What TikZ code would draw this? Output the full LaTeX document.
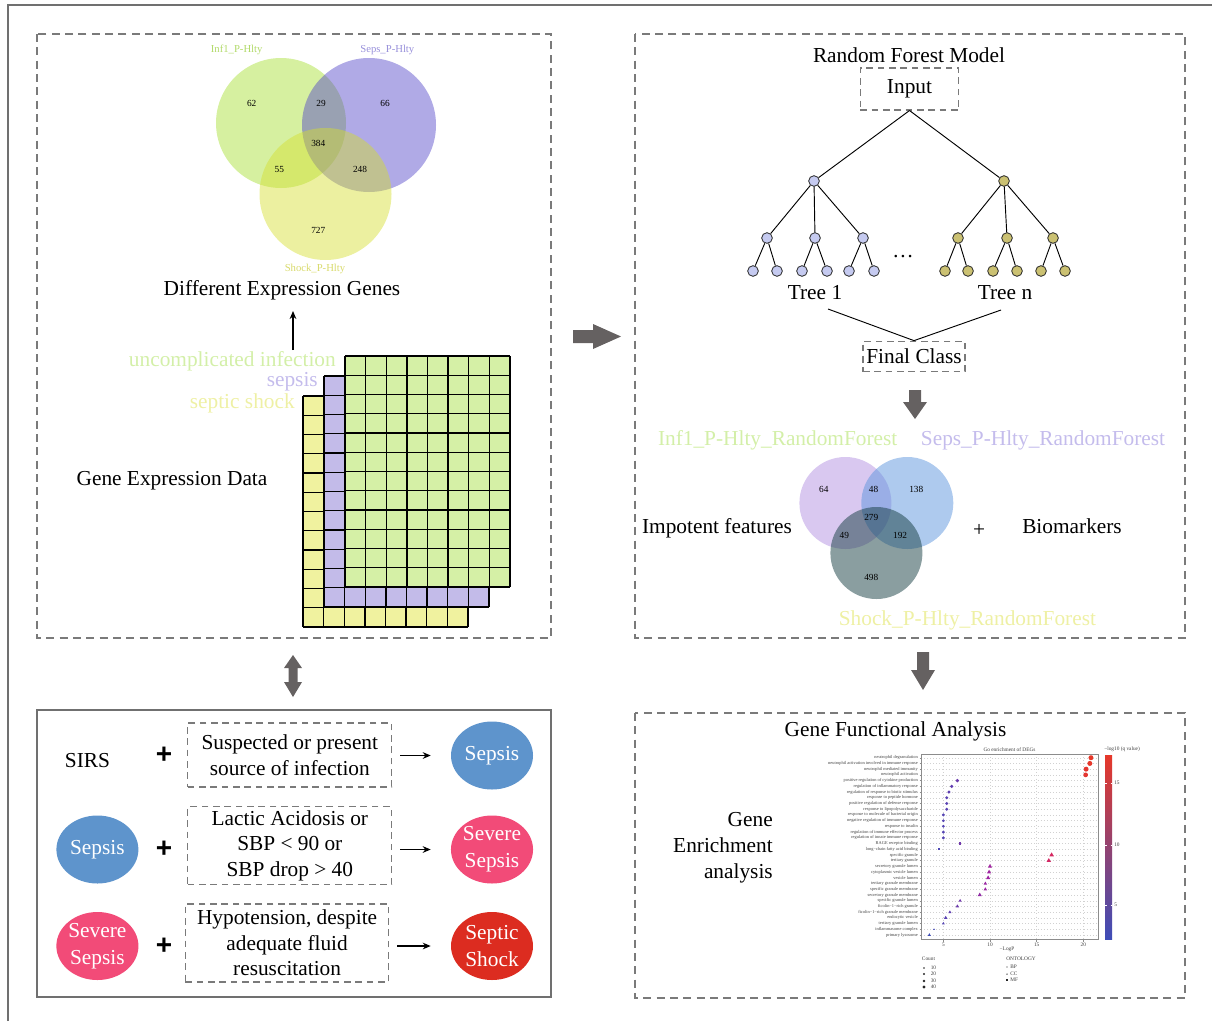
\documentclass[tikz,border=0pt]{standalone}
\usepackage{fontspec}
\setmainfont{Liberation Serif}
\newfontfamily\plusfont{Liberation Sans}
\usetikzlibrary{arrows.meta,shapes.geometric}

\definecolor{framegray}{HTML}{707070}
\definecolor{dashgray}{HTML}{7A7A7A}
\definecolor{fatgray}{HTML}{656161}
\definecolor{vA}{RGB}{164,222,44}
\definecolor{vB}{RGB}{79,66,199}
\definecolor{vC}{RGB}{213,222,44}
\definecolor{wA}{RGB}{179,145,225}
\definecolor{wB}{RGB}{93,149,221}
\definecolor{wC}{RGB}{21,61,65}
\definecolor{labA}{HTML}{B2DA6A}
\definecolor{labB}{HTML}{9890DA}
\definecolor{labC}{HTML}{D8DA6C}
\definecolor{lgreen}{HTML}{D3EFA8}
\definecolor{lpurple}{HTML}{C4BCEC}
\definecolor{lyellow}{HTML}{EEF0A4}
\definecolor{gGreen}{HTML}{D5F0A6}
\definecolor{gPurple}{HTML}{C3BBE9}
\definecolor{gYellow}{HTML}{F0F29F}
\definecolor{treeA}{HTML}{C5CAF0}
\definecolor{treeB}{HTML}{CBC172}
\definecolor{sepsisblue}{HTML}{5E94CC}
\definecolor{severepink}{HTML}{F24B78}
\definecolor{shockred}{HTML}{DC2C20}
\definecolor{qblue}{HTML}{3E4DB8}
\definecolor{qmag}{HTML}{C4179A}
\definecolor{qred}{HTML}{E6382A}
\definecolor{barmag}{HTML}{E0107E}

\tikzset{
  panel/.style={draw=dashgray, line width=0.9pt, dash pattern=on 6pt off 4pt},
  txt/.style={font=\fontsize{16}{19.5}\selectfont, inner sep=0pt},
  dbox/.style={draw=dashgray, line width=0.8pt, dash pattern=on 5pt off 3.5pt, align=center, inner sep=0pt, font=\fontsize{16}{19.1}\selectfont},
  stage/.style={ellipse, minimum width=61.5pt, minimum height=51pt, inner sep=0pt, text=white, align=center, font=\fontsize{16}{20}\selectfont},
  plus/.style={inner sep=0pt, font=\fontsize{21}{21}\plusfont\bfseries},
  tnA/.style={circle, draw=black!85, fill=treeA, minimum size=8pt, inner sep=0pt, line width=0.6pt},
  tnB/.style={circle, draw=black!85, fill=treeB, minimum size=8pt, inner sep=0pt, line width=0.6pt},
  treeline/.style={line width=0.7pt, black},
  vnum/.style={font=\fontsize{7}{8}\selectfont, inner sep=0pt},
  vlab/.style={font=\fontsize{8}{9}\selectfont, inner sep=0pt},
  gridline/.style={line width=1.1pt, black},
  goterm/.style={font=\fontsize{3.3}{4}\selectfont, anchor=east, inner sep=0pt, text=black!75},
  gotiny/.style={font=\fontsize{4}{5}\selectfont, inner sep=0pt, text=black!75},
  smallarrow/.style={-{Stealth[length=6pt,width=5pt]}, line width=0.9pt, black},
}

\begin{document}
\begin{tikzpicture}[x=0.75pt,y=-0.75pt]
\useasboundingbox (0,0) rectangle (1212,1021);

% outer frame
\draw[framegray, line width=1.3pt] (8,1021) -- (8,5) -- (1212,5);

% panels
\draw[panel] (37,34) rectangle (551,638);
\draw[panel] (635,34) rectangle (1185,638);
\draw[panel] (635,713) rectangle (1185,998);
\draw[framegray, line width=1.5pt] (37,710) rectangle (551,997);

% ---------- top-left Venn ----------
\fill[vA, fill opacity=0.45] (281,123) circle (65);
\fill[vB, fill opacity=0.45] (369,125) circle (67);
\fill[vC, fill opacity=0.45] (325.5,194) circle (66);
\node[vnum] (n62) at (251.7,103.3) {62};
\node[vnum] (n29) at (321,103.3) {29};
\node[vnum] (n66) at (385,103.3) {66};
\node[vnum] (n384) at (318.3,143.3) {384};
\node[vnum] (n55) at (279.3,169) {55};
\node[vnum] (n248) at (360,169) {248};
\node[vnum] (n727) at (318.3,230) {727};
\node[vlab, text=labA] (la) at (236.7,50) {Inf1\_P-Hlty};
\node[vlab, text=labB] (lb) at (387.3,50) {Seps\_P-Hlty};
\node[vlab, text=labC] (lc) at (315,269.3) {Shock\_P-Hlty};
\node[txt] (deg) at (282,290.5) {Different Expression Genes};
\coordinate (degA) at (293,350);
\coordinate (degB) at (293,311);
\draw[smallarrow] (degA) -- (degB);

% ---------- expression grid ----------
\foreach \ox/\oy/\col in {303/396/gYellow,324/376/gPurple,345/356/gGreen}{
  \fill[\col] (\ox,\oy) rectangle ++(165,231);
  \foreach \k in {0,...,8} \draw[gridline] ({\ox+\k*20.625},\oy) -- ++(0,231);
  \foreach \k in {0,...,12} \draw[gridline] (\ox,{\oy+\k*19.25}) -- ++(165,0);
}
\node[txt, anchor=east, text=lgreen] (lunc) at (336,361) {uncomplicated infection};
\node[txt, anchor=east, text=lpurple] (lsep) at (318,382) {sepsis};
\node[txt, anchor=east, text=lyellow] (lsho) at (295,403) {septic shock};
\node[txt] (ged) at (172,480.5) {Gene Expression Data};

% ---------- fat gray arrows ----------
\fill[fatgray] (573,330) -- (593,330) -- (593,324) -- (621,336.5) -- (593,349) -- (593,343) -- (573,343) -- cycle;
\fill[fatgray] (909,390) -- (921,390) -- (921,402) -- (927,402) -- (915,419) -- (903,402) -- (909,402) -- cycle;
\fill[fatgray] (917,652) -- (929,652) -- (929,670) -- (935,670) -- (923,690) -- (911,670) -- (917,670) -- cycle;
\fill[fatgray] (293,655) -- (302,668) -- (297.5,668) -- (297.5,682) -- (302,682) -- (293,697) -- (284,682) -- (288.5,682) -- (288.5,668) -- (284,668) -- cycle;

% ---------- random forest ----------
\node[txt] (rfm) at (909,55) {Random Forest Model};
\node[dbox, minimum width=74pt, minimum height=31.5pt] (in) at (909.5,89) {Input};
\node[tnA] (a0) at (814,181) {};
\node[tnA] (a1) at (767,238) {};
\node[tnA] (a2) at (815,238) {};
\node[tnA] (a3) at (863,238) {};
\node[tnA] (a11) at (753,271) {};
\node[tnA] (a12) at (777,271) {};
\node[tnA] (a21) at (802,271) {};
\node[tnA] (a22) at (827,271) {};
\node[tnA] (a31) at (849,271) {};
\node[tnA] (a32) at (874,271) {};
\node[tnB] (b0) at (1004,181) {};
\node[tnB] (b1) at (958,238) {};
\node[tnB] (b2) at (1007,238) {};
\node[tnB] (b3) at (1053,238) {};
\node[tnB] (b11) at (945,271) {};
\node[tnB] (b12) at (968,271) {};
\node[tnB] (b21) at (993,271) {};
\node[tnB] (b22) at (1017,271) {};
\node[tnB] (b31) at (1041,271) {};
\node[tnB] (b32) at (1065,271) {};
\draw[treeline] (in.south) -- (a0);
\draw[treeline] (in.south) -- (b0);
\foreach \p in {a,b}{
  \foreach \k in {1,2,3}{
    \draw[treeline] (\p0) -- (\p\k);
    \draw[treeline] (\p\k) -- (\p\k1);
    \draw[treeline] (\p\k) -- (\p\k2);
  }
}
\node[txt] (dots) at (903,257) {\dots};
\node[txt] (tr1) at (815,292.5) {Tree 1};
\node[txt] (trn) at (1005,292.5) {Tree n};
\node[dbox, minimum width=76.5pt, minimum height=23pt] (fc) at (914,356.5) {Final Class};
\coordinate (c1) at (828,309);
\coordinate (cn) at (1001,310);
\draw[treeline] (c1) -- (fc.north) -- (cn);

% ---------- right Venn ----------
\fill[wA, fill opacity=0.5] (845.4,503) circle (46);
\fill[wB, fill opacity=0.5] (907.3,503) circle (46);
\fill[wC, fill opacity=0.5] (876.4,553) circle (46);
\node[vnum] (m64) at (823.8,489) {64};
\node[vnum] (m48) at (873.5,489) {48};
\node[vnum] (m138) at (916.3,489) {138};
\node[vnum] (m279) at (871.3,517.7) {279};
\node[vnum] (m49) at (844.4,535.7) {49};
\node[vnum] (m192) at (900.1,535.7) {192};
\node[vnum] (m498) at (871.3,577.3) {498};
\node[txt, text=lgreen] (ra) at (777.7,440.7) {Inf1\_P-Hlty\_RandomForest};
\node[txt, text=lpurple] (rb) at (1043,440.7) {Seps\_P-Hlty\_RandomForest};
\node[txt, text=lyellow] (rc) at (967.4,620) {Shock\_P-Hlty\_RandomForest};
\node[txt] (imp) at (717,528) {Impotent features};
\node[txt] (rplus) at (979,530) {+};
\node[txt] (bio) at (1072,526) {Biomarkers};

% ---------- gene functional analysis ----------
\node[txt] (gfa) at (895.5,731) {Gene Functional Analysis};
\node[txt, align=right, anchor=east] (gea) at (773,848) {Gene\\Enrichment\\analysis};

% GO chart panel
\foreach \i in {1,...,32} \draw[black!18, dotted, line width=0.3pt] (921,{757.7+(\i-1)*5.72}) -- (1098,{757.7+(\i-1)*5.72});
\foreach \v in {5,10,15,20} \draw[black!18, dotted, line width=0.3pt] ({896.7+9.33*\v},754) -- ({896.7+9.33*\v},939);
\draw[black!45, line width=0.5pt] (921,754) rectangle (1098,939);
\foreach \v in {5,10,15,20}{
  \draw[black!45, line width=0.4pt] ({896.7+9.33*\v},939) -- ({896.7+9.33*\v},941.5);
  \node[gotiny] (tick\v) at ({896.7+9.33*\v},945) {\v};
}
\foreach \i in {1,...,32} \draw[black!45, line width=0.3pt] (919.5,{757.7+(\i-1)*5.72}) -- (921,{757.7+(\i-1)*5.72});
\node[gotiny] (gotitle) at (1009.5,749.5) {Go enrichment of DEGs};
\node[gotiny] (xlab) at (1007,949.5) {−LogP};

\foreach \i/\lab in {1/neutrophil degranulation,2/neutrophil activation involved in immune response,3/neutrophil mediated immunity,4/neutrophil activation,5/positive regulation of cytokine production,6/regulation of inflammatory response,7/regulation of response to biotic stimulus,8/response to peptide hormone,9/positive regulation of defense response,10/response to lipopolysaccharide,11/response to molecule of bacterial origin,12/negative regulation of immune response,13/response to insulin,14/regulation of immune effector process,15/regulation of innate immune response,16/RAGE receptor binding,17/long−chain fatty acid binding,18/specific granule,19/tertiary granule,20/secretory granule lumen,21/cytoplasmic vesicle lumen,22/vesicle lumen,23/tertiary granule membrane,24/specific granule membrane,25/secretory granule membrane,26/specific granule lumen,27/ficolin−1−rich granule,28/ficolin−1−rich granule membrane,29/endocytic vesicle,30/tertiary granule lumen,31/inflammasome complex,32/primary lysosome}{
  \node[goterm] (gt\i) at (918,{757.7+(\i-1)*5.72}) {\lab};
}

% circles (BP)
\foreach \i/\v/\r in {1/20.82/2.5,2/20.7/2.5,3/20.3/2.5,4/20.25/2.4,5/6.5/1.8,6/5.9/1.7,7/5.6/1.7,8/5.36/1.6,9/5.36/1.6,10/5.36/1.6,11/5.0/1.6,12/5.0/1.5,13/5.0/1.5,14/5.0/1.6,15/5.0/1.6}{
  \pgfmathsetmacro{\px}{896.7+9.33*\v}
  \pgfmathsetmacro{\py}{757.7+(\i-1)*5.72}
  \pgfmathsetmacro{\tq}{(\v-3.5)/17.3}
  \pgfmathtruncatemacro{\pA}{min(100,max(0,\tq*200))}
  \pgfmathtruncatemacro{\pB}{100-min(100,max(0,(\tq-0.5)*200))}
  \fill[fill=qmag!\pA!qblue!\pB!qred] (\px,\py) circle (\r);
}
% squares (MF)
\foreach \i/\v/\r in {16/6.8/1.1,17/4.5/1.0}{
  \pgfmathsetmacro{\px}{896.7+9.33*\v}
  \pgfmathsetmacro{\py}{757.7+(\i-1)*5.72}
  \pgfmathsetmacro{\tq}{(\v-3.5)/17.3}
  \pgfmathtruncatemacro{\pA}{min(100,max(0,\tq*200))}
  \pgfmathtruncatemacro{\pB}{100-min(100,max(0,(\tq-0.5)*200))}
  \fill[fill=qmag!\pA!qblue!\pB!qred] ({\px-\r},{\py-\r}) rectangle ({\px+\r},{\py+\r});
}
% triangles (CC)
\foreach \i/\v/\r in {18/16.6/2.6,19/16.3/2.6,20/10.0/2.4,21/9.9/2.4,22/9.8/2.4,23/9.5/2.0,24/9.5/2.0,25/8.9/2.4,26/6.8/1.8,27/6.5/2.1,28/5.7/1.8,29/5.25/2.1,30/5.0/1.7,31/4.0/1.0,32/3.5/1.8}{
  \pgfmathsetmacro{\px}{896.7+9.33*\v}
  \pgfmathsetmacro{\py}{757.7+(\i-1)*5.72}
  \pgfmathsetmacro{\tq}{(\v-3.5)/17.3}
  \pgfmathtruncatemacro{\pA}{min(100,max(0,\tq*200))}
  \pgfmathtruncatemacro{\pB}{100-min(100,max(0,(\tq-0.5)*200))}
  \fill[fill=qmag!\pA!qblue!\pB!qred] (\px,{\py-\r}) -- ({\px+0.87*\r},{\py+0.5*\r}) -- ({\px-0.87*\r},{\py+0.5*\r}) -- cycle;
}

% colour bar
\shade[top color=qred, middle color=barmag, bottom color=qblue] (1105,755) rectangle (1112,939);
\foreach \yy/\lb in {783/15,845/10,905/5}{
  \draw[white, line width=0.4pt] (1105,\yy) -- (1106.5,\yy);
  \draw[white, line width=0.4pt] (1110.5,\yy) -- (1112,\yy);
  \node[gotiny, anchor=west] (cb\lb) at (1114,\yy) {\lb};
}
\node[gotiny, anchor=west] (cbt) at (1104,749.5) {−log10 (q value)};

% legends
\node[gotiny] (cnt) at (928.5,959) {Count};
\foreach \yy/\lb/\r in {968/10/0.8,974/20/1.1,981/30/1.4,987/40/1.7}{
  \fill[black!85] (924,\yy) circle (\r);
  \node[gotiny, anchor=west] (cl\lb) at (930.5,\yy) {\lb};
}
\node[gotiny] (ont) at (1021,959) {ONTOLOGY};
\fill[black!85] (1007,967) circle (0.6);
\fill[black!85] (1007,973.2) -- (1007.7,974.5) -- (1006.3,974.5) -- cycle;
\fill[black!85] (1006.4,979.4) rectangle (1007.6,980.6);
\node[gotiny, anchor=west] (obp) at (1010,967) {BP};
\node[gotiny, anchor=west] (occ) at (1010,974) {CC};
\node[gotiny, anchor=west] (omf) at (1010,980) {MF};

% ---------- sepsis definitions ----------
\node[txt] (sirs) at (87.5,761) {SIRS};
\node[plus] (p1) at (164,755) {+};
\node[dbox, minimum width=153pt, minimum height=48pt] (bx1) at (289.8,755) {Suspected or present\\source of infection};
\node[stage, fill=sepsisblue] (e1) at (492,755.5) {Sepsis};

\node[stage, fill=sepsisblue] (l2) at (97.4,849.5) {Sepsis};
\node[plus] (p2) at (164,849) {+};
\node[dbox, minimum width=153pt, minimum height=58pt] (bx2) at (289.8,845.5) {Lactic Acidosis or\\SBP < 90 or\\SBP drop > 40};
\node[stage, fill=severepink] (e2) at (492,849.5) {Severe\\Sepsis};

\node[stage, fill=severepink] (l3) at (97.4,946) {Severe\\Sepsis};
\node[plus] (p3) at (164,946) {+};
\node[dbox, minimum width=152.5pt, minimum height=58.5pt] (bx3) at (287.1,943) {Hypotension, despite\\adequate fluid\\resuscitation};
\node[stage, fill=shockred] (e3) at (492,946) {Septic\\Shock};

\draw[smallarrow, shorten <=6pt, shorten >=15pt] (bx1.east |- e1.west) -- (e1.west);
\draw[smallarrow, shorten <=6pt, shorten >=15pt] (bx2.east |- e2.west) -- (e2.west);
\draw[smallarrow, shorten <=6pt, shorten >=15pt] (bx3.east |- e3.west) -- (e3.west);

\end{tikzpicture}
\end{document}
